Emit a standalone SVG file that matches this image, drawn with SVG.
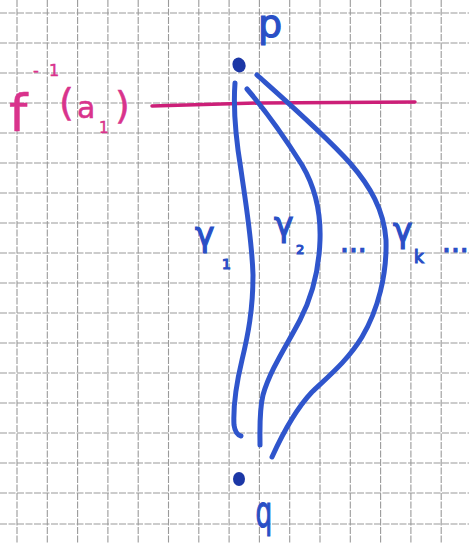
<svg xmlns="http://www.w3.org/2000/svg" width="469" height="544" viewBox="0 0 469 544">
<style>
.grid line{stroke:#9a9a9a;stroke-width:1.1;stroke-dasharray:7 1.5}
.curve{fill:none;stroke:#2f55cc;stroke-width:5;stroke-linecap:round;stroke-linejoin:round}
.dot{fill:#1c37a6}
.blue{fill:#2a4fc6;stroke:#2a4fc6;stroke-width:1.2;font-family:"DejaVu Sans",sans-serif}
.pink{fill:#d9338c;stroke:#d9338c;stroke-width:0.5;font-family:"DejaVu Sans",sans-serif}
</style>
<rect width="469" height="544" fill="#ffffff"/>
<g class="grid" id="grid">
<line x1="17" y1="0" x2="17" y2="544"/><line x1="47.3" y1="0" x2="47.3" y2="544"/><line x1="77.6" y1="0" x2="77.6" y2="544"/><line x1="107.9" y1="0" x2="107.9" y2="544"/><line x1="138.2" y1="0" x2="138.2" y2="544"/><line x1="168.5" y1="0" x2="168.5" y2="544"/><line x1="198.8" y1="0" x2="198.8" y2="544"/><line x1="229.1" y1="0" x2="229.1" y2="544"/><line x1="259.4" y1="0" x2="259.4" y2="544"/><line x1="289.7" y1="0" x2="289.7" y2="544"/><line x1="320" y1="0" x2="320" y2="544"/><line x1="350.3" y1="0" x2="350.3" y2="544"/><line x1="380.6" y1="0" x2="380.6" y2="544"/><line x1="410.9" y1="0" x2="410.9" y2="544"/><line x1="441.2" y1="0" x2="441.2" y2="544"/>
<line x1="0" y1="13" x2="469" y2="13"/><line x1="0" y1="43" x2="469" y2="43"/><line x1="0" y1="73" x2="469" y2="73"/><line x1="0" y1="103" x2="469" y2="103"/><line x1="0" y1="133" x2="469" y2="133"/><line x1="0" y1="163" x2="469" y2="163"/><line x1="0" y1="193" x2="469" y2="193"/><line x1="0" y1="223" x2="469" y2="223"/><line x1="0" y1="253" x2="469" y2="253"/><line x1="0" y1="283" x2="469" y2="283"/><line x1="0" y1="313" x2="469" y2="313"/><line x1="0" y1="343" x2="469" y2="343"/><line x1="0" y1="373" x2="469" y2="373"/><line x1="0" y1="403" x2="469" y2="403"/><line x1="0" y1="433" x2="469" y2="433"/><line x1="0" y1="463" x2="469" y2="463"/><line x1="0" y1="493" x2="469" y2="493"/><line x1="0" y1="524" x2="469" y2="524"/>
</g>
<g id="level-set">
<path d="M152,106 L260,103 L415,102" fill="none" stroke="#cc1f78" stroke-width="3.5" stroke-linecap="round"/>
<text class="pink"><tspan x="9" y="131" font-size="52">f</tspan><tspan x="33" y="76" font-size="16">-</tspan><tspan x="49" y="76" font-size="16">1</tspan><tspan x="59" y="115" font-size="38">(</tspan><tspan x="77" y="118" font-size="30">a</tspan><tspan x="99" y="133" font-size="15">1</tspan><tspan x="115" y="118" font-size="38">)</tspan></text>
</g>
<g id="connectors">
<path id="gamma1" class="curve" d="M235,83 C233,110 236,140 241,170 C246,205 252,240 253,275 C253,310 248,335 242,360 C236,385 233,405 234,425 C235,432 237,435 241,436"/>
<path id="gamma2" class="curve" d="M247,89 C265,110 285,138 302,165 C315,187 321,210 320,240 C319,270 313,295 300,320 C287,345 270,370 263,395 C259,412 260,430 260,445"/>
<path id="gammak" class="curve" d="M257,75 C285,100 325,135 350,163 C370,186 384,210 386,240 C387,275 378,310 362,337 C348,360 330,375 312,392 C295,410 282,435 272,457"/>
</g>
<g id="p">
<ellipse class="dot" cx="239" cy="65" rx="6.5" ry="7.5" transform="rotate(-20 239 65)"/>
<text class="blue" x="258" y="37" font-size="38">p</text>
</g>
<g id="q">
<ellipse class="dot" cx="239" cy="479" rx="6" ry="7"/>
<text class="blue" font-size="44" transform="translate(264,527) scale(0.6,1)" text-anchor="middle">q</text>
</g>
<g id="labels">
<text class="blue" x="195" y="246" font-size="33">γ</text>
<text class="blue" x="222" y="269" font-size="14">1</text>
<text class="blue" x="274" y="236" font-size="33">γ</text>
<text class="blue" x="296" y="254" font-size="13">2</text>
<text class="blue" x="340" y="252" font-size="28">...</text>
<text class="blue" x="393" y="242" font-size="33">γ</text>
<text class="blue" x="414" y="263" font-size="17">k</text>
<text class="blue" x="442" y="252" font-size="28">...</text>
</g>
</svg>
